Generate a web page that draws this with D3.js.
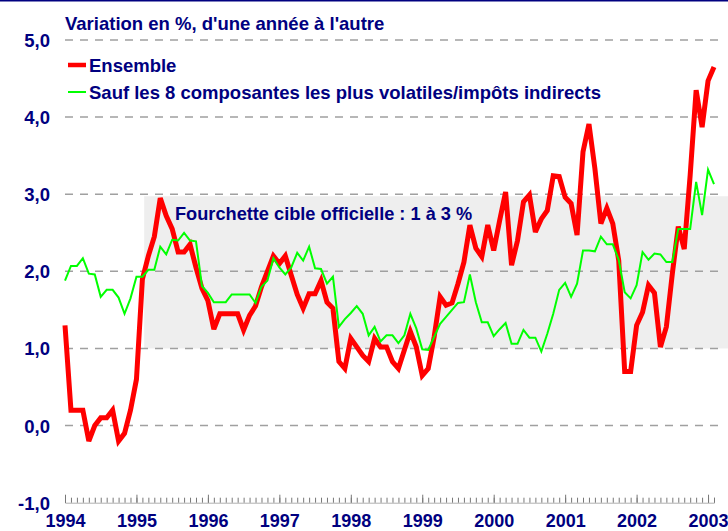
<!DOCTYPE html>
<html>
<head>
<meta charset="utf-8">
<script src="https://cdn.jsdelivr.net/npm/d3@7"></script>
<style>
  html, body { margin: 0; padding: 0; background: #fff; }
  svg { display: block; }
  text { font-family: "Liberation Sans", Arial, Helvetica, sans-serif; font-weight: bold; fill: #000080; }
</style>
</head>
<body>
<svg id="chart" width="728" height="531"></svg>
<script>
// ---------------- DATA ----------------
const startYear = 1994; // monthly series starting January 1994
const yearLabels = [1994, 1995, 1996, 1997, 1998, 1999, 2000, 2001, 2002, 2003];
const yTicks = [-1, 0, 1, 2, 3, 4, 5];
const gridValues = [0, 1, 2, 3, 4, 5];
const targetRange = [1, 3];
const targetStartMonth = 13.3; // early 1995

const seriesNames = ["Ensemble", "Sauf les 8 composantes les plus volatiles/impôts indirects"];
const titleText = "Variation en %, d'une année à l'autre";
const bandText = "Fourchette cible officielle : 1 à 3 %";

// Ensemble (Jan 1994 - Feb 2003)
const ensemble = [
  1.30, 0.20, 0.20, 0.20, -0.20, 0.00, 0.10, 0.10, 0.20, -0.20, -0.10, 0.20,   // 1994
  0.60, 1.90, 2.20, 2.45, 2.95, 2.72, 2.55, 2.25, 2.25, 2.35, 2.05, 1.78,      // 1995
  1.62, 1.25, 1.45, 1.45, 1.45, 1.45, 1.24, 1.43, 1.55, 1.80, 2.00, 2.20,      // 1996
  2.10, 2.20, 1.95, 1.70, 1.52, 1.71, 1.71, 1.88, 1.60, 1.52, 0.83, 0.74,      // 1997
  1.13, 1.02, 0.91, 0.83, 1.13, 1.02, 1.02, 0.83, 0.74, 0.98, 1.22, 1.02,      // 1998
  0.65, 0.74, 1.15, 1.67, 1.56, 1.59, 1.84, 2.12, 2.60, 2.30, 2.19, 2.60,      // 1999
  2.27, 2.66, 3.03, 2.08, 2.40, 2.90, 2.99, 2.51, 2.68, 2.79, 3.24, 3.23,      // 2000
  2.96, 2.88, 2.47, 3.55, 3.91, 3.33, 2.62, 2.82, 2.62, 2.14, 0.70, 0.70,      // 2001
  1.30, 1.47, 1.82, 1.72, 1.02, 1.28, 1.97, 2.58, 2.29, 3.25, 4.35, 3.87,      // 2002
  4.47, 4.65                                                                   // 2003
];

// Sauf les 8 composantes les plus volatiles/impôts indirects
const sansVolatiles = [
  1.88, 2.07, 2.07, 2.17, 1.97, 1.96, 1.67, 1.76, 1.76, 1.66, 1.45, 1.65,      // 1994
  1.93, 1.93, 2.02, 2.02, 2.32, 2.22, 2.41, 2.40, 2.50, 2.40, 2.39, 1.81,      // 1995
  1.72, 1.60, 1.60, 1.60, 1.70, 1.70, 1.70, 1.70, 1.59, 1.80, 1.88, 2.17,      // 1996
  2.05, 1.96, 2.05, 2.24, 2.14, 2.32, 2.04, 2.03, 1.84, 1.93, 1.28, 1.38,      // 1997
  1.46, 1.55, 1.45, 1.17, 1.28, 1.09, 1.17, 1.17, 1.07, 1.17, 1.45, 1.26,      // 1998
  0.99, 0.98, 1.15, 1.32, 1.41, 1.50, 1.59, 1.60, 1.96, 1.60, 1.34, 1.34,      // 1999
  1.16, 1.25, 1.33, 1.06, 1.06, 1.24, 1.14, 1.14, 0.96, 1.19, 1.45, 1.76,      // 2000
  1.85, 1.67, 1.84, 2.27, 2.27, 2.26, 2.45, 2.35, 2.35, 2.15, 1.73, 1.65,      // 2001
  1.82, 2.25, 2.15, 2.23, 2.22, 2.12, 2.12, 2.55, 2.55, 2.55, 3.16, 2.73,      // 2002
  3.32, 3.13                                                                   // 2003
];

// ---------------- CHART ----------------
const svg = d3.select("#chart");
const navy = "#000080";
const fontSize = 18.5;
const nMonths = ensemble.length;

const x = d3.scaleLinear().domain([0, nMonths - 1]).range([65, 714]);
const y = d3.scaleLinear().domain([-1, 5]).range([502.7, 40]);
const gridX0 = 65, gridX1 = 722;

// top rule
svg.append("rect").attr("x", 0).attr("y", 0).attr("width", 728).attr("height", 1.5).attr("fill", navy);

// target band
svg.append("rect")
  .attr("x", x(targetStartMonth)).attr("y", y(targetRange[1]) + 2)
  .attr("width", 728 - x(targetStartMonth))
  .attr("height", y(targetRange[0]) - y(targetRange[1]) - 2)
  .attr("fill", "#eeeeee");

// gridlines
svg.append("g").selectAll("line").data(gridValues).join("line")
  .attr("x1", gridX0).attr("x2", gridX1)
  .attr("y1", d => y(d)).attr("y2", d => y(d))
  .attr("stroke", "#a0a0a0").attr("stroke-width", 1.5)
  .attr("stroke-dasharray", "8,7");

// y labels
const fmt = d => d3.format(".1f")(d).replace(".", ",").replace("\u2212", "-");
const yAxis = svg.append("g").attr("transform", "translate(50,0)")
  .call(d3.axisLeft(y).tickValues(yTicks).tickFormat(fmt).tickSize(0).tickPadding(0));
yAxis.select(".domain").remove();
yAxis.selectAll("text").attr("font-size", fontSize).attr("font-family", null).attr("fill", navy).attr("dy", "0.35em");

// x axis: monthly ticks
const axisY = y(-1);
const monthAxis = svg.append("g").attr("transform", `translate(0,${axisY})`)
  .call(d3.axisBottom(x).tickValues(d3.range(nMonths)).tickSize(-5).tickFormat(""));
monthAxis.select(".domain").attr("stroke", "#b0b0b0").attr("stroke-width", 1);
monthAxis.selectAll(".tick line").attr("stroke", "#777").attr("stroke-width", 1);

// year ticks and labels
const yearIdx = yearLabels.map(yr => (yr - startYear) * 12);
const yearAxis = svg.append("g").attr("transform", `translate(0,${axisY})`)
  .call(d3.axisBottom(x).tickValues(yearIdx).tickSize(-8).tickPadding(24)
    .tickFormat((d, i) => yearLabels[i]));
yearAxis.select(".domain").remove();
yearAxis.selectAll(".tick line").attr("stroke", "#777").attr("stroke-width", 1);
yearAxis.selectAll("text").attr("font-size", 18).attr("font-family", null).attr("fill", navy)
  .attr("y", 24.5).attr("dy", 0);

// lines
const line = d3.line().x((d, i) => x(i)).y(d => y(d));
svg.append("path").datum(ensemble).attr("d", line)
  .attr("fill", "none").attr("stroke", "#ff0000").attr("stroke-width", 5)
  .attr("stroke-linejoin", "miter").attr("stroke-miterlimit", 3);
svg.append("path").datum(sansVolatiles).attr("d", line)
  .attr("fill", "none").attr("stroke", "#00ff00").attr("stroke-width", 2)
  .attr("stroke-linejoin", "miter");

// title
svg.append("text").attr("x", 65).attr("y", 30).attr("font-size", fontSize).text(titleText);

// legend
const legend = svg.append("g");
const legendColors = ["#ff0000", "#00ff00"];
const legendWidths = [4.5, 2];
const legendY = [65, 92];
seriesNames.forEach((name, i) => {
  legend.append("line").attr("x1", 68).attr("x2", 86)
    .attr("y1", legendY[i]).attr("y2", legendY[i])
    .attr("stroke", legendColors[i]).attr("stroke-width", legendWidths[i]);
  legend.append("text").attr("x", 89).attr("y", legendY[i] + 6.5).attr("font-size", fontSize).text(name);
});

// band label
svg.append("text").attr("x", 175).attr("y", 220).attr("font-size", 18.2).text(bandText);
</script>
</body>
</html>
